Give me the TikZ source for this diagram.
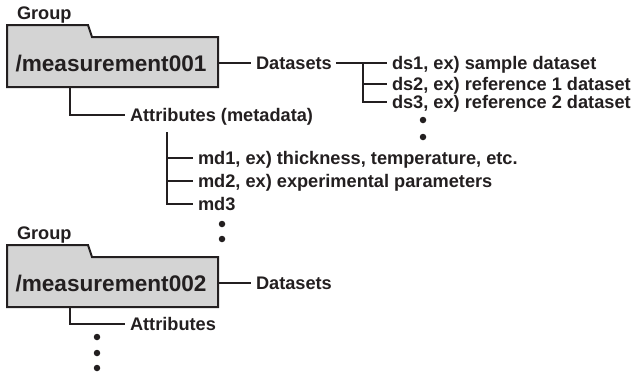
\documentclass[tikz,border=0pt]{standalone}
\usepackage{fontspec}
\setmainfont{Liberation Sans}
\definecolor{ink}{RGB}{35,31,32}
\definecolor{foldergray}{RGB}{212,212,212}
\begin{document}
\begin{tikzpicture}[x=1pt,y=-1pt,line width=2pt,draw=ink,
  lbl/.style={font=\bfseries\fontsize{18.2}{21}\selectfont,text=ink,anchor=west,inner sep=0pt,text height=13pt,text depth=0pt},
  big/.style={font=\bfseries\fontsize{22.6}{26}\selectfont,text=ink,inner sep=0pt,text height=16.2pt,text depth=0pt},
  folder/.style={draw=ink,fill=foldergray,line width=2pt,line join=miter},
  dot/.style={circle,fill=ink,draw=none,inner sep=0pt,minimum size=6.5pt}]
\useasboundingbox (0,0) rectangle (637,375);

% ---------- group 1 ----------
\node[lbl] (g1) at (16,13) {Group};
\draw[folder] (7,25) -- (88,25) -- (92,37) -- (218,37) -- (218,87) -- (7,87) -- cycle;
\node[big] (m1) at (111,63) {/measurement001};
\coordinate (f1r) at (218,63);
\coordinate (f1b) at (70,87);

\node[lbl] (d1) at (255,63) {Datasets};
\draw (f1r) -- ([xshift=-4pt]d1.west);

\node[lbl] (ds1) at (391,63) {ds1, ex) sample dataset};
\node[lbl] (ds2) at (391,84) {ds2, ex) reference 1 dataset};
\node[lbl] (ds3) at (391,102) {ds3, ex) reference 2 dataset};
\coordinate (b1) at (363,63);
\draw ([xshift=3pt]d1.east) -- ([xshift=-4pt]ds1.west);
\draw (b1) |- ([xshift=-4pt]ds3.west);
\draw (b1 |- ds2.west) -- ([xshift=-4pt]ds2.west);
\node[dot] (e1) at (423,120) {};
\node[dot] (e2) at (423,137) {};

\node[lbl] (a1) at (129,115) {Attributes (metadata)};
\draw (f1b) |- ([xshift=-4pt]a1.west);

\node[lbl] (md1) at (197,158) {md1, ex) thickness, temperature, etc.};
\node[lbl] (md2) at (197,181) {md2, ex) experimental parameters};
\node[lbl] (md3) at (197,204) {md3};
\coordinate (mt) at (167,132);
\draw (mt) |- ([xshift=-4pt]md3.west);
\draw (mt |- md1.west) -- ([xshift=-4pt]md1.west);
\draw (mt |- md2.west) -- ([xshift=-4pt]md2.west);
\node[dot] (e3) at (222,224) {};
\node[dot] (e4) at (222,239) {};

% ---------- group 2 ----------
\node[lbl] (g2) at (16,233) {Group};
\draw[folder] (7,245) -- (88,245) -- (92,257) -- (218,257) -- (218,307) -- (7,307) -- cycle;
\node[big] (m2) at (111,283) {/measurement002};
\coordinate (f2r) at (218,283);
\coordinate (f2b) at (70,307);

\node[lbl] (d2) at (255,283) {Datasets};
\draw (f2r) -- ([xshift=-4pt]d2.west);

\node[lbl] (a2) at (129,324) {Attributes};
\draw (f2b) |- ([xshift=-4pt]a2.west);

\node[dot] (e5) at (97,337) {};
\node[dot] (e6) at (97,353) {};
\node[dot] (e7) at (97,368) {};
\end{tikzpicture}
\end{document}
